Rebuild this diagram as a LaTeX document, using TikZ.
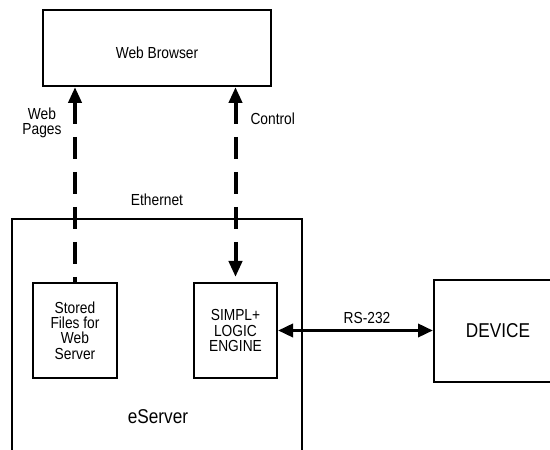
\documentclass[tikz,border=0pt]{standalone}
\usepackage{fontspec}
\setmainfont{Liberation Sans}[FakeStretch=0.86]
\usetikzlibrary{arrows.meta}
\usetikzlibrary{positioning}

\begin{document}
\begin{tikzpicture}[x=1pt, y=1pt, font=\fontsize{16}{15.3}\selectfont,
    box/.style={draw, rectangle, line width=2pt, inner sep=0pt, align=center},
    weblink/.style={line width=4pt, dash pattern=on 22pt off 13pt},
    >={Triangle[length=16pt, width=13pt]}]
            \useasboundingbox (0,0) rectangle (550,450);
            \clip (0,0) rectangle (550,450);
            % eServer with its two blocks, browser on top, device at the right
            \node[box, minimum width=290pt, minimum height=251pt] (eserver) at (157,105.5) {};
            \node[box, minimum width=228pt, minimum height=76pt, text height=21.5pt, text depth=0pt] (browser) at (157,402) {Web Browser};
            \node[box, minimum width=84pt, minimum height=95pt] (stored) at (75,119.5) {Stored\\Files for\\Web\\Server};
            \node[box, minimum width=83pt, minimum height=95pt] (simpl) at (235.5,119.5) {SIMPL+\\LOGIC\\ENGINE};
            \node[box, minimum width=128pt, minimum height=102pt, font=\fontsize{20}{22}\selectfont] (device) at (498,119) {DEVICE};
            \node[font=\fontsize{20}{22}\selectfont] (eserverlbl) at (158,33) {eServer};

            \draw[weblink, <-] (browser.south -| stored.north) -- (stored.north);
            \draw[weblink, <->, shorten >=5pt] (browser.south -| simpl.north) -- (simpl.north);
            \draw[line width=3.5pt, {Triangle[length=15pt, width=13pt]}-{Triangle[length=15pt, width=13pt]}] (simpl.east) -- (device.west |- simpl.east);

            \node[above=9pt of eserver.north] (ethernetlbl) {Ethernet};
            \node[align=center] (pageslbl) at (42,327) {Web\\Pages};
            \node[anchor=west] (controllbl) at (247,331) {Control};
            \node (rslbl) at (367,132) {RS-232};
        \end{tikzpicture}
\end{document}
